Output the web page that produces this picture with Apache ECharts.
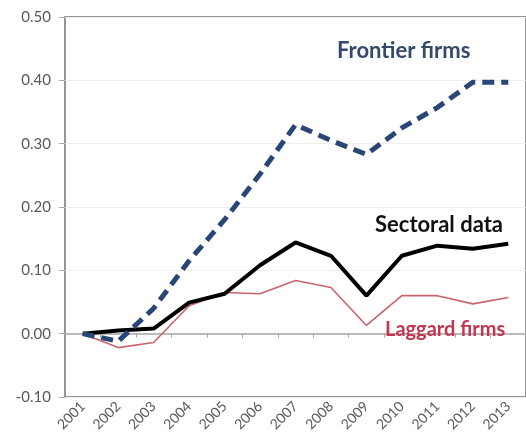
<!DOCTYPE html>
<html>
<head>
<meta charset="utf-8">
<script src="https://cdn.jsdelivr.net/npm/echarts@6/dist/echarts.min.js"></script>
<style>
  html, body { margin: 0; padding: 0; background: #fff; }
  #chart { width: 526px; height: 448px; }
</style>
</head>
<body>
<div id="chart"></div>
<script>
const years = ['2001','2002','2003','2004','2005','2006','2007','2008','2009','2010','2011','2012','2013'];
const frontierFirms = [0.000, -0.012, 0.040, 0.115, 0.180, 0.252, 0.330, 0.305, 0.283, 0.325, 0.357, 0.397, 0.397];
const sectoralData  = [0.000, 0.005, 0.008, 0.049, 0.063, 0.108, 0.144, 0.123, 0.060, 0.123, 0.139, 0.134, 0.142];
const laggardFirms  = [0.000, -0.022, -0.014, 0.044, 0.065, 0.063, 0.084, 0.073, 0.013, 0.060, 0.060, 0.047, 0.057];
const yTicks = { min: -0.10, max: 0.50, step: 0.10 };

const chart = echarts.init(document.getElementById('chart'), null, { renderer: 'canvas' });
const font = 'Lato, "Open Sans", sans-serif';
chart.setOption({
  animation: false,
  backgroundColor: '#ffffff',
  grid: {
    left: 65, top: 17, right: -7, bottom: 51,
    show: true, borderColor: '#959595', borderWidth: 2, backgroundColor: 'transparent'
  },
  xAxis: [
    {
      type: 'category', data: years, position: 'bottom',
      axisLine: { show: false, onZero: false },
      axisTick: { show: false },
      axisLabel: { rotate: 45, margin: 7, color: '#595959', fontSize: 14, fontFamily: font, interval: 0 },
      splitLine: { show: false }
    },
    {
      type: 'category', data: years, position: 'bottom',
      axisLine: { show: true, onZero: true, lineStyle: { color: '#a6a6a6', width: 1.5 } },
      axisTick: { show: true, interval: 0, length: 4, lineStyle: { color: '#a6a6a6', width: 1 } },
      axisLabel: { show: false },
      splitLine: { show: false }
    }
  ],
  yAxis: {
    type: 'value', min: yTicks.min, max: yTicks.max, interval: yTicks.step,
    axisLine: { show: false },
    axisTick: { show: true, length: 6, lineStyle: { color: '#a6a6a6' } },
    axisLabel: { margin: 14, color: '#595959', fontSize: 15, fontFamily: font,
      formatter: v => v.toFixed(2) },
    splitLine: { show: true, lineStyle: { color: '#efefef', width: 1 } }
  },
  series: [
    {
      name: 'Laggard firms', type: 'line', data: laggardFirms, xAxisIndex: 0,
      symbol: 'none', z: 3,
      lineStyle: { color: '#c9636d', width: 1.6 }
    },
    {
      name: 'Sectoral data', type: 'line', data: sectoralData, xAxisIndex: 0,
      symbol: 'none', z: 4,
      lineStyle: { color: '#000000', width: 4 }
    },
    {
      name: 'Frontier firms', type: 'line', data: frontierFirms, xAxisIndex: 0,
      symbol: 'none', z: 5,
      lineStyle: { color: '#2a4677', width: 5, type: [12, 7] }
    }
  ],
  graphic: [
    { type: 'text', left: 337, top: 40, z: 10,
      style: { text: 'Frontier firms', fill: '#35496b', font: 'bold 22px ' + font } },
    { type: 'text', left: 375, top: 214, z: 10,
      style: { text: 'Sectoral data', fill: '#111111', font: 'bold 22px ' + font } },
    { type: 'text', left: 385, top: 320, z: 10,
      style: { text: 'Laggard firms', fill: '#c4364f', font: 'bold 20px ' + font } }
  ]
});
</script>
</body>
</html>
